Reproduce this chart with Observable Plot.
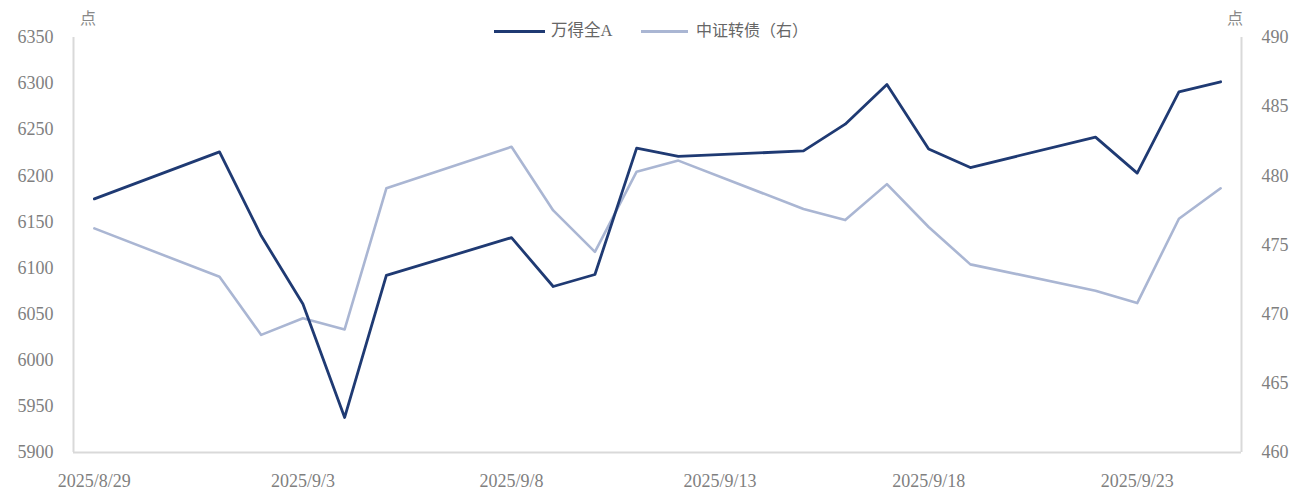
<!DOCTYPE html>
<html><head><meta charset="utf-8">
<script src="https://cdn.jsdelivr.net/npm/d3@7"></script>
<script src="https://cdn.jsdelivr.net/npm/@observablehq/plot@0.6"></script>
<style>
body{margin:0;background:#fff;}
#wrap{position:relative;width:1305px;height:498px;background:#fff;}
.txt{position:absolute;font-family:"Liberation Serif","Noto Sans CJK SC",serif;color:#666;white-space:nowrap;line-height:1;}
.sw{position:absolute;height:3px;}
</style></head><body><div id="wrap"></div>
<script>
const dates = ["2025-08-29","2025-09-01","2025-09-02","2025-09-03","2025-09-04","2025-09-05",
  "2025-09-08","2025-09-09","2025-09-10","2025-09-11","2025-09-12",
  "2025-09-15","2025-09-16","2025-09-17","2025-09-18","2025-09-19",
  "2025-09-22","2025-09-23","2025-09-24","2025-09-25"];
const windA = [6175,6226,6135,6061,5938,6092,6133,6080,6093,6230,6221,6227,6256,6299,6229,6209,6242,6203,6291,6302];
const cbIndex = [476.2,472.7,468.5,469.7,468.9,479.1,482.1,477.5,474.5,480.3,481.1,477.6,476.8,479.4,476.3,473.6,471.7,470.8,476.9,479.1];
const xTicks = ["2025-08-29","2025-09-03","2025-09-08","2025-09-13","2025-09-18","2025-09-23"];
const leftTicks = [5900,5950,6000,6050,6100,6150,6200,6250,6300,6350];
const rightTicks = [460,465,470,475,480,485,490];
const seriesNames = ["万得全A","中证转债（右）"];
const colors = ["#1f3a73","#aab6d3"];
const unitLabel = "点";

const leftDomain = [5900,6350], rightDomain = [460,490];
const k = (leftDomain[1]-leftDomain[0])/(rightDomain[1]-rightDomain[0]);
const toLeft = v => leftDomain[0] + (v-rightDomain[0])*k;
const fromLeft = d => Math.round((rightDomain[0] + (d-leftDomain[0])/k)*100)/100;
const parse = s => new Date(s+"T00:00:00Z");
const halfDay = 12*3600*1000;
const xDomain = [new Date(parse(dates[0]) - halfDay), new Date(+parse(dates[dates.length-1]) + halfDay)];

const windData = dates.map((d,i)=>({date:parse(d), v:windA[i]}));
const cbData = dates.map((d,i)=>({date:parse(d), v:toLeft(cbIndex[i])}));
const fmt = d => `${d.getUTCFullYear()}/${d.getUTCMonth()+1}/${d.getUTCDate()}`;

const chart = Plot.plot({
  width:1305, height:498,
  marginTop:37, marginBottom:46, marginLeft:73, marginRight:64,
  style:{fontFamily:"'Liberation Serif', serif", fontSize:"18px", color:"#7f7f7f", background:"white"},
  x:{type:"utc", domain:xDomain},
  y:{domain:leftDomain},
  marks:[
    Plot.ruleY([leftDomain[0]], {stroke:"#d9d9d9", strokeWidth:2}),
    Plot.ruleX(xDomain, {stroke:"#d9d9d9", strokeWidth:2}),
    Plot.axisX({ticks:xTicks.map(parse), tickFormat:fmt, tickSize:0, tickPadding:22, label:null}),
    Plot.axisY({anchor:"left", ticks:leftTicks, tickFormat:d=>String(d), tickSize:0, tickPadding:20, label:null}),
    Plot.axisY({anchor:"right", ticks:rightTicks.map(toLeft), tickFormat:d=>String(fromLeft(d)), tickSize:0, tickPadding:20, label:null}),
    Plot.line(cbData, {x:"date", y:"v", stroke:colors[1], strokeWidth:2.6}),
    Plot.line(windData, {x:"date", y:"v", stroke:colors[0], strokeWidth:2.8})
  ]
});
const wrap = document.getElementById("wrap");
wrap.appendChild(chart);
chart.style.position="absolute"; chart.style.left="0"; chart.style.top="0";

function addText(t, left, top, size, extra){
  const el=document.createElement("div"); el.className="txt"; el.textContent=t;
  el.style.left=left+"px"; el.style.top=top+"px"; el.style.fontSize=size+"px";
  if(extra) Object.assign(el.style, extra);
  wrap.appendChild(el); return el;
}
function addSwatch(left, top, w, c){
  const el=document.createElement("div"); el.className="sw";
  el.style.left=left+"px"; el.style.top=top+"px"; el.style.width=w+"px"; el.style.background=c;
  wrap.appendChild(el);
}
addSwatch(494, 30, 51, colors[0]);
addText(seriesNames[0], 551, 23, 16.5);
addSwatch(641, 30, 47, colors[1]);
addText(seriesNames[1], 696, 23, 16);
addText(unitLabel, 80, 11, 16, {color:"#888"});
addText(unitLabel, 1227, 11, 16, {color:"#888"});
</script>
</body></html>
